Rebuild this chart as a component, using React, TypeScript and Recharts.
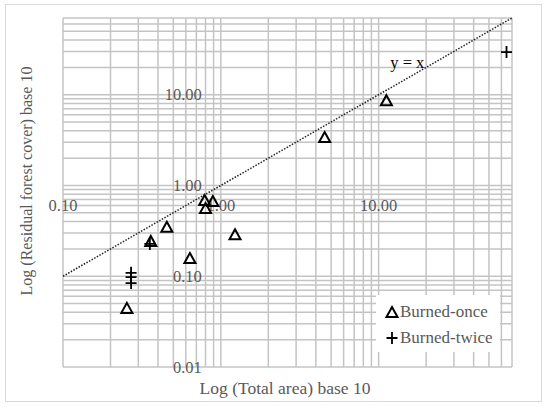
import React from 'react';
import { ScatterChart, Scatter, XAxis, YAxis, ReferenceLine, ReferenceDot } from 'recharts';

// Data
const onceX = [11.2, 4.55, 1.23, 0.79, 0.89, 0.8, 0.455, 0.36, 0.637, 0.254];
const onceY = [8.7, 3.42, 0.29, 0.69, 0.675, 0.565, 0.35, 0.245, 0.159, 0.0448];
const twiceX = [64.6, 0.355, 0.27, 0.27, 0.27];
const twiceY = [29.5, 0.227, 0.109, 0.098, 0.084];

const xGridTicks = [0.1, 0.2, 0.3, 0.4, 0.5, 0.6, 0.7, 0.8, 0.9, 1, 2, 3, 4, 5, 6, 7, 8, 9, 10, 20, 30, 40, 50, 60, 70];
const yGridTicks = [0.01, 0.02, 0.03, 0.04, 0.05, 0.06, 0.07, 0.08, 0.09, 0.1, 0.2, 0.3, 0.4, 0.5, 0.6, 0.7, 0.8, 0.9, 1, 2, 3, 4, 5, 6, 7, 8, 9, 10, 20, 30, 40, 50, 60, 70];
const xTickValues = [0.1, 1, 10];
const xTickLabels = ['0.10', '1.00', '10.00'];
const yTickValues = [0.01, 0.1, 1, 10];
const yTickLabels = ['0.01', '0.10', '1.00', '10.00'];
const lineStart = 0.1;
const lineEnd = 70;
const lineLabel = 'y = x';
const lineLabelPos = { x: 15.2, y: 22.9 };
const seriesNames = ['Burned-once', 'Burned-twice'];

const onceData = onceX.map((x, i) => ({ x, y: onceY[i] }));
const twiceData = twiceX.map((x, i) => ({ x, y: twiceY[i] }));

const FONT = '"Liberation Serif", "Times New Roman", serif';
const GRAY = '#595959';
const GRID = '#c4c4c4';

const Triangle = (p: any) => {
  const { cx, cy } = p;
  if (cx == null || cy == null) return null;
  const h = 10;
  const w = 5.5;
  return (
    <path
      d={`M${cx},${cy - h / 2} L${cx + w},${cy + h / 2} L${cx - w},${cy + h / 2} Z`}
      fill="none"
      stroke="#000"
      strokeWidth={2}
      strokeLinejoin="miter"
    />
  );
};

const Plus = (p: any) => {
  const { cx, cy } = p;
  if (cx == null || cy == null) return null;
  return (
    <path
      d={`M${cx - 5.5},${cy} L${cx + 5.5},${cy} M${cx},${cy - 6} L${cx},${cy + 6}`}
      fill="none"
      stroke="#000"
      strokeWidth={1.8}
    />
  );
};

const xLabel = (text: string) => (props: any) => {
  const vb = props.viewBox;
  return (
    <text x={vb.x + vb.width / 2} y={vb.y + vb.height / 2 + 20} textAnchor="middle" dominantBaseline="central"
      fill={GRAY} fontSize={16.5} fontFamily={FONT}>{text}</text>
  );
};

const yLabel = (text: string) => (props: any) => {
  const vb = props.viewBox;
  return (
    <text x={vb.x + vb.width / 2 - 19} y={vb.y + vb.height / 2} textAnchor="end" dominantBaseline="central"
      fill={GRAY} fontSize={16.5} fontFamily={FONT}>{text}</text>
  );
};

const lineLabelContent = (props: any) => {
  const vb = props.viewBox;
  return (
    <text x={vb.x + vb.width / 2} y={vb.y + vb.height / 2} textAnchor="middle" dominantBaseline="central"
      fill="#000" fontSize={16.5} fontFamily={FONT}>{lineLabel}</text>
  );
};

export default function App() {
  return (
    <div style={{ position: 'absolute', left: 0, top: 0, width: 550, height: 407, background: '#fff', fontFamily: FONT }}>
      <div style={{ position: 'absolute', left: 5, top: 4, width: 537, height: 398, border: '1.5px solid #d9d9d9', boxSizing: 'border-box' }} />
      <div style={{ position: 'absolute', left: 0, top: 0 }}>
        <ScatterChart width={550} height={407} margin={{ top: 18, right: 38, bottom: 40, left: 63 }}>
          <XAxis type="number" dataKey="x" scale="log" domain={[0.1, 70]} allowDataOverflow hide />
          <YAxis type="number" dataKey="y" scale="log" domain={[0.01, 70]} allowDataOverflow hide />
          {xGridTicks.map((v) => (
            <ReferenceLine key={'gx' + v} x={v} stroke={GRID} strokeWidth={1.5} />
          ))}
          {yGridTicks.map((v) => (
            <ReferenceLine key={'gy' + v} y={v} stroke={GRID} strokeWidth={1.5} />
          ))}
          {xTickValues.map((v, i) => (
            <ReferenceDot key={'xt' + i} x={v} y={1} r={0} fill="none" stroke="none" label={xLabel(xTickLabels[i])} />
          ))}
          {yTickValues.map((v, i) => (
            <ReferenceDot key={'yt' + i} x={1} y={v} r={0} fill="none" stroke="none" label={yLabel(yTickLabels[i])} />
          ))}
          <ReferenceLine segment={[{ x: lineStart, y: lineStart }, { x: lineEnd, y: lineEnd }]} stroke="#222"
            strokeWidth={1.5} strokeDasharray="1.5 1.5" />
          <ReferenceDot x={lineLabelPos.x} y={lineLabelPos.y} r={0} fill="none" stroke="none" label={lineLabelContent} />
          <Scatter name={seriesNames[0]} data={onceData} shape={Triangle} isAnimationActive={false} />
          <Scatter name={seriesNames[1]} data={twiceData} shape={Plus} isAnimationActive={false} />
        </ScatterChart>
      </div>
      <div style={{ position: 'absolute', left: 376, top: 295, width: 124, height: 57, background: '#fff' }}>
        <div style={{ position: 'absolute', left: 8, top: 6, display: 'flex', alignItems: 'center', height: 22 }}>
          <svg width={16} height={16} style={{ marginRight: 0 }}><Triangle cx={8} cy={8} /></svg>
          <span style={{ color: GRAY, fontSize: 17, whiteSpace: 'nowrap', fontFamily: FONT }}>{seriesNames[0]}</span>
        </div>
        <div style={{ position: 'absolute', left: 8, top: 32, display: 'flex', alignItems: 'center', height: 22 }}>
          <svg width={16} height={16} style={{ marginRight: 0 }}><Plus cx={8} cy={8} /></svg>
          <span style={{ color: GRAY, fontSize: 17, whiteSpace: 'nowrap', fontFamily: FONT }}>{seriesNames[1]}</span>
        </div>
      </div>
      <div style={{ position: 'absolute', left: 0, width: 570, top: 378, textAlign: 'center', color: GRAY, fontSize: 17.5, whiteSpace: 'nowrap' }}>
        Log (Total area) base 10
      </div>
      <div style={{ position: 'absolute', left: 27, top: 181, width: 0, height: 0 }}>
        <div style={{ position: 'absolute', left: 0, top: 0, transform: 'translate(-50%, -50%) rotate(-90deg)', color: GRAY, fontSize: 16, whiteSpace: 'nowrap' }}>
          Log (Residual forest cover) base 10
        </div>
      </div>
    </div>
  );
}
